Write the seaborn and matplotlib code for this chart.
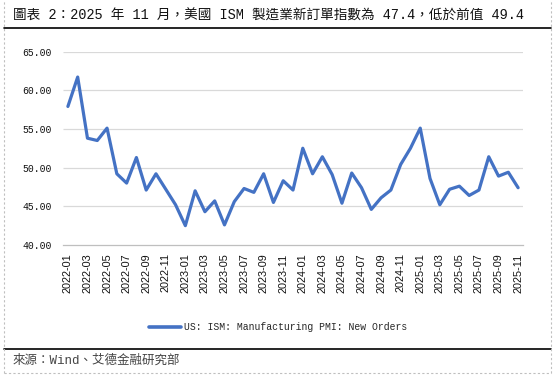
import matplotlib
matplotlib.use("Agg")
import matplotlib.pyplot as plt
from matplotlib.lines import Line2D
import seaborn as sns
import pandas as pd
import numpy as np

months = [f"{y}-{m:02d}" for y in (2022, 2023, 2024, 2025) for m in range(1, 13)][:47]
new_orders = [57.9, 61.7, 53.8, 53.5, 55.1, 49.2, 48.0, 51.3, 47.1, 49.2, 47.2, 45.2,
              42.5, 47.0, 44.3, 45.7, 42.6, 45.6, 47.3, 46.8, 49.2, 45.5, 48.3, 47.1,
              52.5, 49.2, 51.4, 49.1, 45.4, 49.3, 47.4, 44.6, 46.1, 47.1, 50.4, 52.5,
              55.1, 48.6, 45.2, 47.2, 47.6, 46.4, 47.1, 51.4, 48.9, 49.4, 47.4]
series_name = "US: ISM: Manufacturing PMI: New Orders"
title = "圖表 2：2025 年 11 月，美國 ISM 製造業新訂單指數為 47.4，低於前值 49.4"
source = "來源：Wind、艾德金融研究部"
y_ticks = [40, 45, 50, 55, 60, 65]

sns.set_theme(style="white")
plt.rcParams['font.family'] = ['Liberation Mono', 'Noto Sans CJK TC', 'DejaVu Sans']

df = pd.DataFrame({"idx": np.arange(len(months)), "month": months, "value": new_orders})

W, H = 557, 377
fig = plt.figure(figsize=(W / 100, H / 100), dpi=100)
ax = fig.add_axes([63 / W, 1 - 245 / H, (523 - 63) / W, (245 - 51.5) / H])

sns.lineplot(data=df, x="idx", y="value", ax=ax, color="#4472C4", linewidth=2.3,
             solid_joinstyle="round", solid_capstyle="round", legend=False)

x0, x1 = -0.5, len(months) - 0.5
ax.set_xlim(x0, x1)
ax.set_ylim(40, 65)
ax.set_yticks(y_ticks)
ax.set_yticklabels([f"{v:.2f}" for v in y_ticks], fontsize=7, color="#111111",
                   family=['Liberation Mono'])
ax.grid(False)
ax.hlines(y_ticks[1:], x0, x1, color="#d9d9d9", linewidth=0.9, zorder=0, clip_on=True)

ax.set_xticks(df["idx"][::2])
ax.set_xticklabels(df["month"][::2], rotation=90, fontsize=7.8, color="#111111",
                   family=['Liberation Sans'])
ax.set_xticks(np.arange(-0.5, len(months), 2), minor=True)
ax.tick_params(axis="x", which="major", length=0, pad=6)
ax.tick_params(axis="x", which="minor", length=5, width=0.8, color="#bfbfbf", direction="out")
ax.tick_params(axis="y", length=0, pad=8)
for s in ["top", "right", "left"]:
    ax.spines[s].set_visible(False)
ax.spines["bottom"].set_color("#bfbfbf")
ax.spines["bottom"].set_linewidth(0.9)
ax.set_xlabel("")
ax.set_ylabel("")

handle = Line2D([], [], color="#4472C4", linewidth=2.6)
fig.legend([handle], [series_name], loc="center", bbox_to_anchor=(278 / W, 1 - 327.5 / H),
           frameon=False, handlelength=3.3, handletextpad=0.3,
           prop={'family': ['Liberation Mono'], 'size': 7})

fig.text(13 / W, 1 - 16 / H, title, fontsize=9.8, va="center", ha="left", color="#111111",
         family=['Liberation Mono', 'Noto Sans CJK TC'])
fig.text(13 / W, 1 - 361 / H, source, fontsize=9.0, va="center", ha="left", color="#444444",
         family=['Liberation Mono', 'Noto Sans CJK TC'])

# frame lines
fig.add_artist(Line2D([4 / W, 551 / W], [1 - 28 / H, 1 - 28 / H], color="black", linewidth=1.2))
fig.add_artist(Line2D([4 / W, 551 / W], [1 - 349 / H, 1 - 349 / H], color="black", linewidth=1.2))
dash = dict(color="#bfbfbf", linewidth=0.8, linestyle=(0, (2, 2)))
fig.add_artist(Line2D([4 / W, 4 / W], [1 - 373 / H, 1.0], **dash))
fig.add_artist(Line2D([551 / W, 551 / W], [1 - 373 / H, 1.0], **dash))
fig.add_artist(Line2D([4 / W, 551 / W], [1 - 373 / H, 1 - 373 / H], **dash))

fig.savefig("out.png", dpi=100)
